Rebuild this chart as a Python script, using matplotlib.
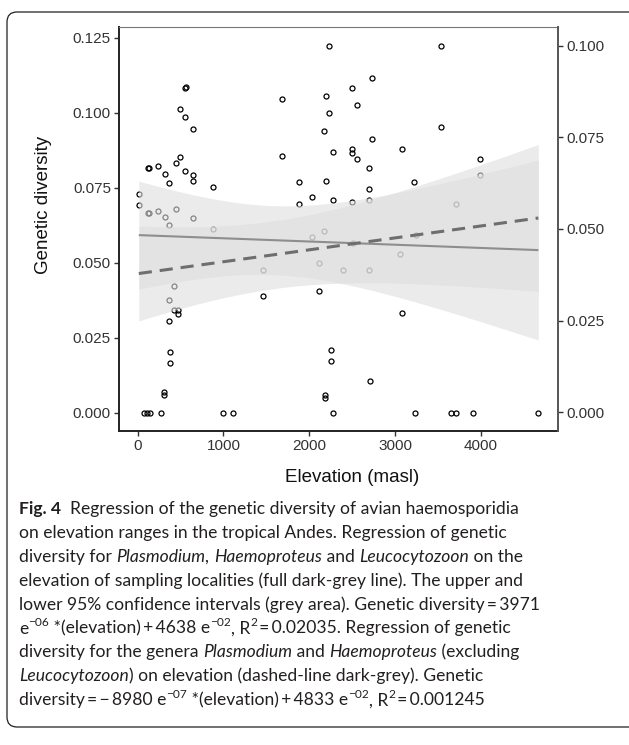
import numpy as np
import matplotlib
matplotlib.use("Agg")
import matplotlib.pyplot as plt
from matplotlib.path import Path
from matplotlib.patches import PathPatch

# ---------------- data ----------------
elevation = [2232, 557, 562, 495, 553, 651, 1680, 2197, 2232, 2178, 2275, 1680,
             126, 130, 239, 495, 445, 320, 364, 553, 643, 651, 884,
             14, 14, 126, 130, 239, 445, 320, 643,
             1879, 2201, 2034, 1879, 2275, 364, 884, 2030, 2178,
             2112, 1463, 1463, 2112, 422, 364, 422, 472, 472, 364,
             375, 375, 313, 313, 2251, 2251, 2185, 2185,
             70, 115, 150, 275, 993, 1113, 2282, 3231, 3650, 3712, 3906, 4671,
             2710, 3541, 2737, 2500, 2562, 3541, 2737, 2500, 2500, 2562, 3083,
             2698, 3992, 2698, 3226, 3992, 2500, 2702, 3709, 3250, 3056,
             2399, 2698, 3083, 2505]
diversity = [0.1223, 0.1084, 0.1085, 0.1011, 0.0986, 0.0945, 0.1045, 0.1057, 0.0999, 0.0938, 0.0868, 0.0855,
             0.0815, 0.0816, 0.0823, 0.0851, 0.0833, 0.0795, 0.0765, 0.0807, 0.0792, 0.0774, 0.0752,
             0.0728, 0.0691, 0.0666, 0.0667, 0.0673, 0.0679, 0.0651, 0.0648,
             0.0769, 0.0772, 0.0718, 0.0696, 0.0709, 0.0625, 0.0614, 0.0586, 0.0605,
             0.0498, 0.0476, 0.0389, 0.0406, 0.0421, 0.0376, 0.0344, 0.0344, 0.0328, 0.0307,
             0.0204, 0.0166, 0.0070, 0.0058, 0.0209, 0.0172, 0.0058, 0.0048,
             0.0, 0.0, 0.0, 0.0, 0.0, 0.0, 0.0, 0.0, 0.0, 0.0, 0.0, 0.0,
             0.0105, 0.1223, 0.1117, 0.1084, 0.1027, 0.0954, 0.0913, 0.0878, 0.0865, 0.0846, 0.0878,
             0.0815, 0.0846, 0.0747, 0.0768, 0.0791, 0.0704, 0.0710, 0.0695, 0.0592, 0.0528,
             0.0475, 0.0475, 0.0333, 0.0565]

# fitted lines: value at lowest / highest elevation
solid_ends = [0.0592, 0.0542]
dashed_ends = [0.0464, 0.0649]
# confidence band half-widths: at lowest elevation, minimum, at highest elevation
solid_halfwidth = [0.0180, 0.0115, 0.0300]
dashed_halfwidth = [0.0158, 0.0113, 0.0245]

x_ticks = [0, 1000, 2000, 3000, 4000]
left_ticks = [0.000, 0.025, 0.050, 0.075, 0.100, 0.125]
right_ticks = [0.000, 0.025, 0.050, 0.075, 0.100]

caption = [
    [("Fig. 4", "b"), ("  Regression of the genetic diversity of avian haemosporidia", "r")],
    [("on elevation ranges in the tropical Andes. Regression of genetic", "r")],
    [("diversity for ", "r"), ("Plasmodium", "i"), (", ", "r"), ("Haemoproteus", "i"),
     (" and ", "r"), ("Leucocytozoon", "i"), (" on the", "r")],
    [("elevation of sampling localities (full dark-grey line). The upper and", "r")],
    [("lower 95% confidence intervals (grey area). Genetic diversity\u2009=\u20093971", "r")],
    [("e", "r"), ("\u221206", "s"), (" *(elevation)\u2009+\u20094638 e", "r"), ("\u221202", "s"),
     (", R", "r"), ("2", "s"), ("\u2009=\u20090.02035. Regression of genetic", "r")],
    [("diversity for the genera ", "r"), ("Plasmodium", "i"), (" and ", "r"),
     ("Haemoproteus", "i"), (" (excluding", "r")],
    [("Leucocytozoon", "i"), (") on elevation (dashed-line dark-grey). Genetic", "r")],
    [("diversity\u2009=\u2009\u2212\u20098980 e", "r"), ("\u221207", "s"),
     (" *(elevation)\u2009+\u20094833 e", "r"), ("\u221202", "s"), (", R", "r"), ("2", "s"),
     ("\u2009=\u20090.001245", "r")],
]

# ---------------- figure ----------------
W, H = 629, 745
fig = plt.figure(figsize=(W / 100, H / 100), dpi=100)
fig.patch.set_facecolor("white")

def fx(px):
    return px / W

def fy(py):
    return 1 - py / H

ax = fig.add_axes([fx(119), fy(431), (558 - 119) / W, (431 - 27) / H])
ax.set_xlim(-217, 4900)
ax.set_ylim(-0.0061, 0.12857)

x = np.array(elevation, dtype=float)
y = np.array(diversity, dtype=float)

ax.plot(x, y, linestyle="none", marker="o", ms=3.6, mfc="none", mec="black",
        mew=0.9, zorder=2)

xa, xb = x.min(), x.max()
xs = np.linspace(xa, xb, 300)

def band(ends, hw):
    A, m, B = hw
    r = np.sqrt((A ** 2 - m ** 2) / (B ** 2 - m ** 2))
    x0 = (xa + r * xb) / (1 + r)
    k = np.sqrt(A ** 2 - m ** 2) / (x0 - xa)
    center = ends[0] + (ends[1] - ends[0]) * (xs - xa) / (xb - xa)
    half = np.sqrt(m ** 2 + (k * (xs - x0)) ** 2)
    return center, half

cs, hs = band(solid_ends, solid_halfwidth)
cd, hd = band(dashed_ends, dashed_halfwidth)
ax.fill_between(xs, cs - hs, cs + hs, color="#DEDEDE", alpha=0.6, lw=0, zorder=3)
ax.fill_between(xs, cd - hd, cd + hd, color="#DEDEDE", alpha=0.6, lw=0, zorder=3)
ax.plot(xs, cs, color="#8E8E8E", lw=1.5, zorder=4, solid_capstyle="butt")
ax.plot(xs, cd, color="#6E6E6E", lw=2.2, zorder=4, linestyle=(0, (4.3, 2.6)),
        dash_capstyle="butt")

tick_font = dict(family="Liberation Sans", size=11)
ax.set_xticks(x_ticks)
ax.set_xticklabels([str(v) for v in x_ticks], color="#333333", **tick_font)
ax.set_yticks(left_ticks)
ax.set_yticklabels(["%.3f" % v for v in left_ticks], color="#333333", **tick_font)
ax.tick_params(axis="both", direction="out", length=3.8, width=1.0, color="#333333", pad=2)

for side in ["left", "bottom"]:
    ax.spines[side].set_linewidth(1.4)
    ax.spines[side].set_color("#222222")
ax.spines["top"].set_linewidth(0.8)
ax.spines["top"].set_color("#777777")
ax.spines["right"].set_visible(False)

ax2 = ax.twinx()
ax2.set_ylim(-0.0051, 0.1051)
ax2.set_yticks(right_ticks)
ax2.set_yticklabels(["%.3f" % v for v in right_ticks], color="#333333", **tick_font)
ax2.tick_params(axis="y", direction="out", length=3.8, width=1.0, color="#333333", pad=2)
for side in ["left", "bottom", "top"]:
    ax2.spines[side].set_visible(False)
ax2.spines["right"].set_linewidth(1.4)
ax2.spines["right"].set_color("#555555")

label_font = dict(family="Liberation Sans", size=13.5, color="#111111")
fig.text(fx(352), fy(478), "Elevation (masl)", ha="center", va="center", **label_font)
fig.text(fx(43), fy(205), "Genetic diversity", ha="center", va="center",
         rotation=90, **label_font)

# ---------------- caption box ----------------
r = 10
x0b, y0b, y1b, xr = 7, 12, 727, 640
verts = [(xr, y0b), (x0b + r, y0b), (x0b, y0b), (x0b, y0b + r),
         (x0b, y1b - r), (x0b, y1b), (x0b + r, y1b), (xr, y1b)]
codes = [Path.MOVETO, Path.LINETO, Path.CURVE3, Path.CURVE3,
         Path.LINETO, Path.CURVE3, Path.CURVE3, Path.LINETO]
path = Path([(fx(a), fy(b)) for a, b in verts], codes)
fig.patches.append(PathPatch(path, transform=fig.transFigure, fill=False,
                             edgecolor="#231F20", lw=0.9))

# ---------------- caption text ----------------
renderer = fig.canvas.get_renderer()
fam = ["Lato", "DejaVu Sans"]

def seg_kwargs(style, size):
    kw = dict(family=fam, size=size, color="#231F20")
    if style == "b":
        kw["weight"] = "bold"
    if style == "i":
        kw["style"] = "italic"
    if style == "s":
        kw["size"] = size * 0.68
    return kw

def text_width(s, kw):
    t1 = fig.text(0, 0, "|" + s + "|", **kw)
    t2 = fig.text(0, 0, "||", **kw)
    w = t1.get_window_extent(renderer).width - t2.get_window_extent(renderer).width
    t1.remove()
    t2.remove()
    return w

def line_width(segs, size):
    return sum(text_width(s, seg_kwargs(st, size)) for s, st in segs)

base = 10.0
x_start = 19
target = 517 - x_start
size = base * target / line_width(caption[0], base)

y_first, spacing = 514, 23.9
for i, segs in enumerate(caption):
    xp = x_start
    yb = y_first + i * spacing
    for s, st in segs:
        kw = seg_kwargs(st, size)
        dy = size * 0.42 * 100 / 72 if st == "s" else 0
        fig.text(fx(xp), fy(yb - dy), s, ha="left", va="baseline", **kw)
        xp += text_width(s, kw)

fig.savefig("out.png", dpi=100, facecolor="white")
